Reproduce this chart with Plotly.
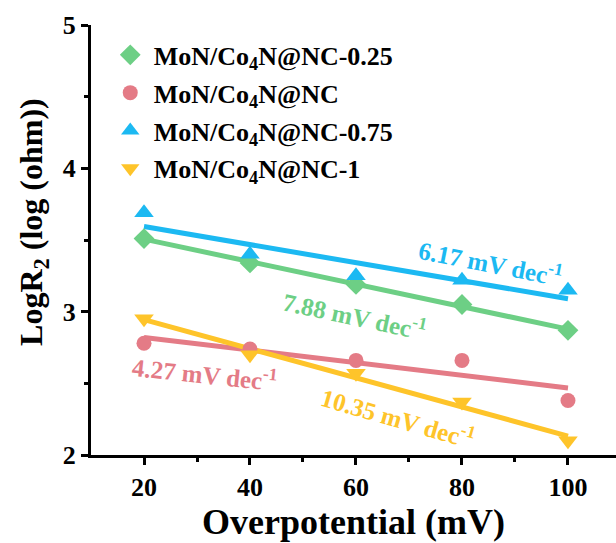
import numpy as np
import plotly.graph_objects as go

overpotential = [20, 40, 60, 80, 100]
series_names = ["MoN/Co<sub>4</sub>N@NC-0.25", "MoN/Co<sub>4</sub>N@NC",
                "MoN/Co<sub>4</sub>N@NC-0.75", "MoN/Co<sub>4</sub>N@NC-1"]
logr_025 = [3.51, 3.34, 3.19, 3.05, 2.87]
logr_nc = [2.78, 2.74, 2.66, 2.66, 2.38]
logr_075 = [3.69, 3.40, 3.25, 3.22, 3.15]
logr_1 = [2.95, 2.70, 2.57, 2.37, 2.10]
slope_labels = ["7.88 mV dec<sup>-1</sup>", "4.27 mV dec<sup>-1</sup>",
                "6.17 mV dec<sup>-1</sup>", "10.35 mV dec<sup>-1</sup>"]

series = [logr_025, logr_nc, logr_075, logr_1]
colors = ["#6DCF85", "#E47B86", "#1CB9F2", "#FEC42A"]
symbols = ["diamond", "circle", "triangle-up", "triangle-down"]
msizes = [16, 15, 17, 17]
label_pos = [(59.8, 2.975, 12), (31.5, 2.57, 6), (85.3, 3.35, 11), (67.9, 2.265, 16)]

FONT = "Liberation Serif"
fig = go.Figure()
x = np.array(overpotential, dtype=float)
for i, ys in enumerate(series):
    k, b = np.polyfit(x, np.array(ys), 1)
    fig.add_trace(go.Scatter(x=x, y=k * x + b, mode="lines",
                             line=dict(color=colors[i], width=5),
                             showlegend=False, hoverinfo="skip"))
for i, ys in enumerate(series):
    fig.add_trace(go.Scatter(x=overpotential, y=ys, mode="markers", name=series_names[i],
                             legendgroup=str(i),
                             marker=dict(symbol=symbols[i], size=msizes[i], color=colors[i])))
for i, (lx, ly, ang) in enumerate(label_pos):
    fig.add_annotation(x=lx, y=ly, text="<b>" + slope_labels[i] + "</b>", showarrow=False,
                       textangle=ang, font=dict(family=FONT, size=25, color=colors[i]))

fig.add_annotation(xref="paper", yref="paper", x=-0.1086, y=0.542,
                   xanchor="center", yanchor="middle",
                   text="<b>LogR<sub>2</sub> (log (ohm))</b>", showarrow=False,
                   textangle=-90, font=dict(family=FONT, size=32, color="black"))

fig.update_layout(
    width=616, height=543,
    margin=dict(l=91, r=0, t=25, b=88),
    plot_bgcolor="white", paper_bgcolor="white",
    font=dict(family=FONT, color="black"),
    legend=dict(x=0.03, y=0.985, xanchor="left", yanchor="top",
                font=dict(family=FONT, size=26, color="black", weight="bold"),
                tracegroupgap=1, bgcolor="rgba(0,0,0,0)", itemwidth=37),
    xaxis=dict(range=[10, 109.06], showgrid=False, zeroline=False,
               showline=True, linecolor="black", linewidth=3,
               ticks="outside", ticklen=7, tickwidth=3, tickcolor="black",
               tickvals=[20, 40, 60, 80, 100],
               tickfont=dict(family=FONT, size=26, color="black", weight="bold"),
               minor=dict(ticks="outside", ticklen=4, tickwidth=3, tickcolor="black",
                          tickvals=[30, 50, 70, 90]),
               title=dict(text="<b>Overpotential (mV)</b>",
                          font=dict(family=FONT, size=36, color="black"), standoff=4)),
    yaxis=dict(range=[2, 5], showgrid=False, zeroline=False,
               showline=True, linecolor="black", linewidth=3,
               ticks="outside", ticklen=7, tickwidth=3, tickcolor="black",
               tickvals=[2, 3, 4, 5],
               tickfont=dict(family=FONT, size=26, color="black", weight="bold"),
               minor=dict(ticks="outside", ticklen=4, tickwidth=3, tickcolor="black",
                          tickvals=[2.5, 3.5, 4.5])),
)
fig.write_html("out.html")
